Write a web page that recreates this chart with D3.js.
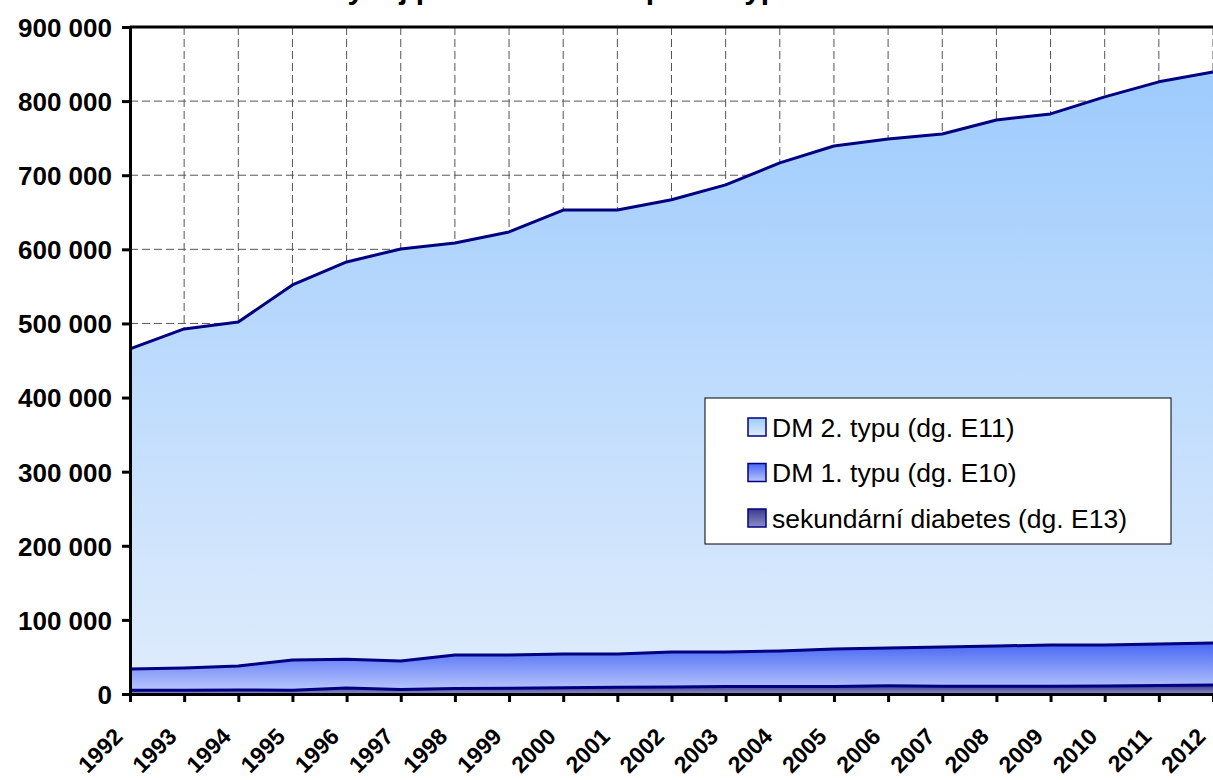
<!DOCTYPE html>
<html>
<head>
<meta charset="utf-8">
<script src="https://cdn.jsdelivr.net/npm/d3@7"></script>
<style>
  body { margin: 0; background: #fff; }
  svg { display: block; font-family: Arial, "Liberation Sans", sans-serif; }
</style>
</head>
<body>
<div id="chart"></div>
<script>
// years on the x axis
const years = ["1992","1993","1994","1995","1996","1997","1998","1999","2000","2001","2002",
               "2003","2004","2005","2006","2007","2008","2009","2010","2011","2012"];

// secondary diabetes (E13)
const sekundarni = [5000,5200,5500,5200,8000,6000,7500,7800,8500,9000,9300,
                    10000,10000,10200,11000,10500,10500,10500,10800,11500,12000];
// DM type 1 (E10)
const dm1 = [28700,29800,32300,40700,39000,38500,45100,44800,45500,45000,47400,
             46700,48000,50500,51000,52900,54300,55500,55200,56000,56800];
// DM type 2 (E11)
const dm2 = [431900,457600,464200,506100,536000,556000,556000,570900,599000,599000,610300,
             630300,658600,678800,687000,692300,709800,716700,739700,758500,770600];

const yTicks = [0,100000,200000,300000,400000,500000,600000,700000,800000,900000];
const legendLabels = ["DM 2. typu (dg. E11)", "DM 1. typu (dg. E10)", "sekundární diabetes (dg. E13)"];
const title = "Vývoj počtu diabetiků podle typu diabetu";

const W = 1213, H = 780;
const margin = {top: 27, right: 0, bottom: 86, left: 130};

const svg = d3.select("#chart").append("svg")
    .attr("width", W).attr("height", H);

const x = d3.scalePoint().domain(years).range([margin.left, W - margin.right]);
const y = d3.scaleLinear().domain([0, 900000]).range([H - margin.bottom, margin.top]);

// gradients
const defs = svg.append("defs");
function grad(id, top, bottom) {
  const g = defs.append("linearGradient").attr("id", id)
    .attr("x1", 0).attr("y1", 0).attr("x2", 0).attr("y2", 1);
  g.append("stop").attr("offset", "0%").attr("stop-color", top);
  g.append("stop").attr("offset", "100%").attr("stop-color", bottom);
}
grad("gDm2", "#9dcbfd", "#ddebfc");
grad("gDm1", "#4766f4", "#b9c6fd");
grad("gSek", "#3a3a8e", "#8c8cc8");

// title (cut off at the top, as in the source image)
svg.append("text")
    .attr("x", 620).attr("y", -1)
    .attr("text-anchor", "middle")
    .style("font-weight", "bold").style("font-size", "30px")
    .text(title);

// grid
const grid = svg.append("g");
grid.selectAll(".hg").data(yTicks.slice(1, -1)).enter().append("line")
    .attr("x1", margin.left).attr("x2", W)
    .attr("y1", d => y(d)).attr("y2", d => y(d))
    .attr("stroke", "#555").attr("stroke-width", 1).attr("stroke-dasharray", "8,4");
grid.selectAll(".vg").data(years.slice(1)).enter().append("line")
    .attr("x1", d => x(d)).attr("x2", d => x(d))
    .attr("y1", y(900000)).attr("y2", y(0))
    .attr("stroke", "#555").attr("stroke-width", 1).attr("stroke-dasharray", "8,4");

// stacked areas
const rows = years.map((yr, i) => ({year: yr, sek: sekundarni[i], dm1: dm1[i], dm2: dm2[i]}));
const stack = d3.stack().keys(["sek", "dm1", "dm2"]);
const series = stack(rows);
const fills = {sek: "url(#gSek)", dm1: "url(#gDm1)", dm2: "url(#gDm2)"};

const area = d3.area()
    .x(d => x(d.data.year))
    .y0(d => y(d[0]))
    .y1(d => y(d[1]));
const line = d3.line()
    .x(d => x(d.data.year))
    .y(d => y(d[1]));

svg.append("g").selectAll("path").data(series).enter().append("path")
    .attr("d", area)
    .attr("fill", d => fills[d.key]);

svg.append("g").selectAll("path").data(series).enter().append("path")
    .attr("d", line)
    .attr("fill", "none")
    .attr("stroke", "#000080")
    .attr("stroke-width", 3)
    .attr("stroke-linejoin", "round");

// top border
svg.append("line")
    .attr("x1", margin.left).attr("x2", W)
    .attr("y1", y(900000)).attr("y2", y(900000))
    .attr("stroke", "#000").attr("stroke-width", 3);

// axes
const yAxis = svg.append("g")
    .attr("transform", "translate(" + margin.left + ",0)")
    .call(d3.axisLeft(y).tickValues(yTicks).tickSize(8).tickPadding(10)
      .tickFormat(d => d3.format(",")(d).replace(/,/g, " ")));
const xAxis = svg.append("g")
    .attr("transform", "translate(0," + y(0) + ")")
    .call(d3.axisBottom(x).tickSize(8).tickFormat(""));

[yAxis, xAxis].forEach(a => {
  a.select(".domain").attr("stroke", "#000").attr("stroke-width", 3);
  a.selectAll(".tick line").attr("stroke", "#000").attr("stroke-width", 3);
});
yAxis.selectAll(".tick text")
    .style("font-size", "26px").style("font-weight", "bold").attr("fill", "#000")
    .attr("dy", "0.36em");

// rotated year labels
svg.append("g").selectAll("text").data(years).enter().append("text")
    .attr("transform", d => "translate(" + (x(d) - 6) + "," + (y(0) + 44) + ") rotate(-45)")
    .attr("text-anchor", "end")
    .style("font-size", "23px").style("font-weight", "bold")
    .text(d => d);

// legend
const lg = svg.append("g").attr("transform", "translate(705,398)");
lg.append("rect").attr("width", 466).attr("height", 146)
    .attr("fill", "#fff").attr("stroke", "#000").attr("stroke-width", 1);
const legFills = ["url(#gDm2)", "url(#gDm1)", "url(#gSek)"];
const items = lg.selectAll(".item").data(legendLabels).enter().append("g")
    .attr("transform", (d, i) => "translate(43," + (29 + i * 45.5) + ")");
items.append("rect")
    .attr("x", 0).attr("y", -9).attr("width", 18).attr("height", 18)
    .attr("fill", (d, i) => legFills[i])
    .attr("stroke", "#000080").attr("stroke-width", 1.5);
items.append("text")
    .attr("x", 24).attr("dy", "0.36em")
    .style("font-size", "26.5px")
    .text(d => d);
</script>
</body>
</html>
